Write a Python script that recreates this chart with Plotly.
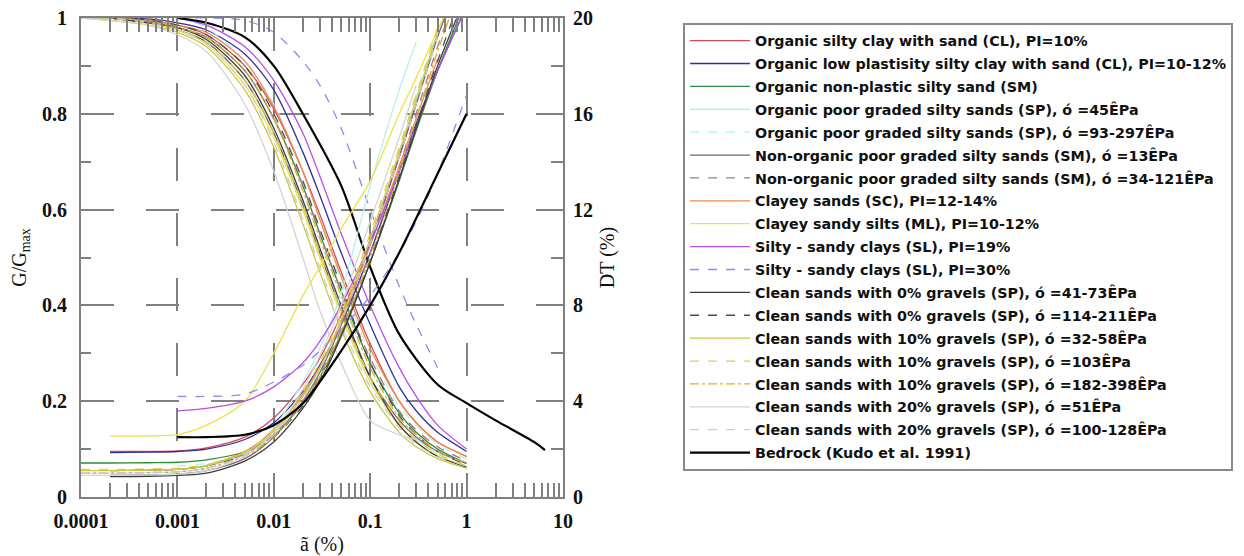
import plotly.graph_objects as go

# shear strain grid (%)
STRAIN = [0.0001, 0.0002, 0.0005, 0.001, 0.002, 0.005, 0.01, 0.02, 0.03, 0.05, 0.1, 0.2, 0.3, 0.5, 1.0]
STRAIN_ROCK = [0.001, 0.002, 0.005, 0.01, 0.02, 0.05, 0.1, 0.2, 0.5, 1.0, 2.0, 5.0, 6.5]

NAMES = [
    "Organic silty clay with sand (CL), PI=10%",
    "Organic low plastisity silty clay with sand (CL), PI=10-12%",
    "Organic non-plastic silty sand (SM)",
    "Organic poor graded silty sands (SP), ó =45ÊPa",
    "Organic poor graded silty sands (SP), ó =93-297ÊPa",
    "Non-organic poor graded silty sands (SM), ó =13ÊPa",
    "Non-organic poor graded silty sands (SM), ó =34-121ÊPa",
    "Clayey sands (SC), PI=12-14%",
    "Clayey sandy silts (ML), PI=10-12%",
    "Silty - sandy clays (SL), PI=19%",
    "Silty - sandy clays (SL), PI=30%",
    "Clean sands with 0% gravels (SP), ó =41-73ÊPa",
    "Clean sands with 0% gravels (SP), ó =114-211ÊPa",
    "Clean sands with 10% gravels (SP), ó =32-58ÊPa",
    "Clean sands with 10% gravels (SP), ó =103ÊPa",
    "Clean sands with 10% gravels (SP), ó =182-398ÊPa",
    "Clean sands with 20% gravels (SP), ó =51ÊPa",
    "Clean sands with 20% gravels (SP), ó =100-128ÊPa",
    "Bedrock (Kudo et al. 1991)",
]

N = None
# G/Gmax curves
G01 = [N, 1.0, 0.995, 0.985, 0.965, 0.90, 0.81, 0.68, 0.59, 0.47, 0.32, 0.20, 0.155, 0.115, 0.085]
G02 = [N, 1.0, 0.998, 0.99, 0.975, 0.925, 0.85, 0.72, 0.63, 0.51, 0.36, 0.23, 0.18, 0.135, 0.095]
G03 = [1.0, 1.0, 0.993, 0.98, 0.96, 0.89, 0.79, 0.65, 0.55, 0.43, 0.28, 0.175, 0.135, 0.10, 0.07]
G04 = [1.0, 1.0, 0.99, 0.975, 0.95, 0.87, 0.76, 0.60, 0.50, 0.38, 0.24, 0.15, 0.12, 0.09, N]
G05 = [N, N, N, 1.0, 0.98, 0.91, 0.82, 0.68, 0.58, 0.45, 0.30, 0.19, 0.15, 0.11, 0.08]
G06 = [N, 1.0, 0.99, 0.975, 0.95, 0.87, 0.76, 0.61, 0.51, 0.39, 0.25, 0.16, 0.125, 0.095, 0.07]
G07 = [N, 1.0, 0.993, 0.98, 0.96, 0.89, 0.79, 0.65, 0.55, 0.43, 0.29, 0.18, 0.14, 0.105, 0.075]
G08 = [N, 1.0, 0.995, 0.985, 0.97, 0.91, 0.815, 0.68, 0.58, 0.46, 0.31, 0.20, 0.155, 0.115, 0.085]
G09 = [N, 1.0, 0.99, 0.975, 0.945, 0.86, 0.75, 0.60, 0.50, 0.38, 0.24, 0.15, 0.115, 0.085, 0.065]
G10 = [N, N, N, 1.0, 0.985, 0.94, 0.87, 0.76, 0.67, 0.55, 0.40, 0.27, 0.21, 0.15, 0.10]
G11 = [N, N, N, 1.0, 1.0, 0.995, 0.97, 0.91, 0.86, 0.77, 0.60, 0.44, 0.36, 0.27, N]
G12 = [N, 1.0, 0.99, 0.98, 0.955, 0.88, 0.77, 0.62, 0.52, 0.40, 0.25, 0.15, 0.115, 0.085, 0.062]
G13 = [1.0, 1.0, 0.995, 0.985, 0.965, 0.90, 0.80, 0.66, 0.56, 0.44, 0.28, 0.17, 0.13, 0.095, 0.068]
G14 = [1.0, 0.995, 0.985, 0.97, 0.94, 0.85, 0.73, 0.57, 0.47, 0.35, 0.22, 0.135, 0.105, 0.08, 0.06]
G15 = [1.0, 1.0, 0.99, 0.975, 0.95, 0.87, 0.76, 0.61, 0.51, 0.39, 0.25, 0.155, 0.12, 0.09, 0.065]
G16 = [1.0, 1.0, 0.993, 0.98, 0.96, 0.89, 0.79, 0.64, 0.54, 0.42, 0.27, 0.165, 0.13, 0.095, 0.07]
G17 = [1.0, 0.995, 0.985, 0.965, 0.93, 0.82, 0.68, 0.50, 0.39, 0.28, 0.16, 0.13, 0.12, N, N]
G18 = [1.0, 1.0, 0.99, 0.975, 0.945, 0.86, 0.74, 0.58, 0.48, 0.36, 0.23, 0.145, 0.11, 0.085, 0.065]
G19 = [1.0, 0.99, 0.96, 0.90, 0.80, 0.65, 0.48, 0.34, 0.235, 0.196, 0.16, 0.115, 0.098]

# damping curves DT (%)
D01 = [N, 1.9, 1.9, 1.92, 2.05, 2.5, 3.3, 4.7, 5.8, 7.6, 10.6, 14.2, 16.4, N, N]
D02 = [N, 1.85, 1.87, 1.9, 2.0, 2.4, 3.1, 4.4, 5.5, 7.2, 10.2, 13.6, 15.6, 17.8, 20.5]
D03 = [1.42, 1.42, 1.43, 1.45, 1.55, 1.9, 2.6, 3.9, 5.0, 6.8, 9.8, 13.2, 15.3, 17.8, 20.8]
D04 = [1.0, 1.0, 1.02, 1.05, 1.2, 1.8, 2.9, 4.8, 6.2, 8.5, 13.0, 17.0, 19.0, N, N]
D05 = [N, N, N, 1.3, 1.4, 1.8, 2.6, 4.0, 5.2, 7.2, 10.6, 14.4, 16.8, 19.5, N]
D06 = [N, 0.9, 0.92, 0.95, 1.1, 1.6, 2.5, 4.0, 5.2, 7.2, 10.6, 14.2, 16.4, 19.2, 22.5]
D07 = [N, 1.1, 1.12, 1.15, 1.3, 1.8, 2.6, 4.0, 5.1, 7.0, 10.2, 13.8, 16.0, 18.8, 22.0]
D08 = [N, 1.1, 1.12, 1.15, 1.3, 1.9, 2.8, 4.3, 5.4, 7.3, 10.5, 13.8, 15.8, 18.3, N]
D09 = [N, 2.55, 2.55, 2.6, 3.0, 4.0, 6.0, 8.4, 9.6, 11.2, 13.2, 16.0, 17.5, 19.5, 22.0]
D10 = [N, N, N, 3.6, 3.7, 4.0, 4.6, 5.6, 6.5, 8.0, 10.6, 13.6, 15.5, 17.8, 20.5]
D11 = [N, N, N, 4.2, 4.2, 4.3, 4.8, 5.5, 6.1, 7.0, 8.4, 10.2, 11.5, 13.5, 16.8]
D12 = [N, 0.85, 0.86, 0.9, 1.0, 1.5, 2.3, 3.7, 4.8, 6.7, 9.8, 13.3, 15.4, 18.0, 21.0]
D13 = [1.13, 1.13, 1.14, 1.17, 1.3, 1.75, 2.5, 3.8, 4.9, 6.8, 9.9, 13.4, 15.5, 18.2, 21.5]
D14 = [1.1, 1.1, 1.12, 1.15, 1.3, 1.85, 2.7, 4.2, 5.4, 7.4, 10.8, 14.4, 16.6, 19.4, N]
D15 = [1.15, 1.15, 1.17, 1.2, 1.35, 1.9, 2.8, 4.4, 5.6, 7.6, 11.0, 14.6, 16.8, 19.6, N]
D16 = [1.0, 1.0, 1.02, 1.05, 1.2, 1.7, 2.5, 3.9, 5.0, 6.9, 10.0, 13.6, 15.8, 18.6, 22.0]
D17 = [0.9, 0.9, 0.92, 0.95, 1.1, 1.7, 2.7, 4.5, 5.9, 8.0, 11.5, 15.0, 17.2, N, N]
D18 = [1.0, 1.0, 1.02, 1.05, 1.2, 1.75, 2.6, 4.1, 5.3, 7.3, 10.6, 14.2, 16.4, 19.2, N]
D19 = [2.5, 2.5, 2.6, 3.0, 3.9, 6.1, 8.0, 10.2, 13.5, 16.0, N, N, N]

G_LIST = [G01, G02, G03, G04, G05, G06, G07, G08, G09, G10, G11, G12, G13, G14, G15, G16, G17, G18, G19]
D_LIST = [D01, D02, D03, D04, D05, D06, D07, D08, D09, D10, D11, D12, D13, D14, D15, D16, D17, D18, D19]

COLORS = ["#d84a55", "#30309a", "#2f8a3a", "#b8eef0", "#b0f4ee", "#7a6474", "#a07890",
          "#f08a48", "#f0e048", "#b84ee8", "#8c8cf0", "#3c3c3c", "#4a4a4a", "#c8c84a",
          "#e8cc3c", "#d8b030", "#d4d4d4", "#cccccc", "#000000"]
DASHES = ["solid", "solid", "solid", "solid", "dash", "solid", "dash", "solid", "solid",
          "solid", "dash", "solid", "dash", "solid", "dash", "dashdot", "solid", "dash", "solid"]
WIDTHS = [1.3] * 18 + [2.2]

fig = go.Figure()
for i, name in enumerate(NAMES):
    xs = STRAIN_ROCK if i == 18 else STRAIN
    line = dict(color=COLORS[i], dash=DASHES[i], width=WIDTHS[i], shape="spline", smoothing=0.8)
    fig.add_trace(go.Scatter(x=xs, y=G_LIST[i], mode="lines", name=name, line=line,
                             legendgroup=f"g{i}", yaxis="y", hoverinfo="skip"))
    fig.add_trace(go.Scatter(x=xs, y=D_LIST[i], mode="lines", name=name, line=line,
                             legendgroup=f"g{i}", showlegend=False, yaxis="y2", hoverinfo="skip"))

AX = "#808080"
tickfont = dict(family="Liberation Serif", size=20, color="#111", weight="bold")
titlefont = dict(family="Liberation Serif", size=20, color="#111")
GRID_DASH = "33px,32px"

fig.update_layout(
    width=1244, height=556, autosize=False,
    margin=dict(l=81, r=681, t=18, b=59, autoexpand=False),
    paper_bgcolor="white", plot_bgcolor="white",
    showlegend=True,
    legend=dict(x=1.249, y=0.99, xanchor="left", yanchor="top",
                bordercolor="#888", borderwidth=2, bgcolor="white",
                font=dict(family="DejaVu Sans", size=14.3, color="#111", weight="bold"),
                tracegroupgap=1.3, itemwidth=60, maxheight=0.98),
    xaxis=dict(type="log", range=[-4, 1],
               tickvals=[0.0001, 0.001, 0.01, 0.1, 1, 10],
               ticktext=["0.0001", "0.001", "0.01", "0.1", "1", "10"],
               tickfont=tickfont, ticks="inside", ticklen=14, tickcolor=AX, tickwidth=2,
               showgrid=True, gridcolor=AX, gridwidth=2, griddash=GRID_DASH,
               minor=dict(dtick="D1", ticks="inside", ticklen=10, tickcolor=AX, tickwidth=2, showgrid=False),
               showline=True, linecolor=AX, linewidth=2, mirror="allticks",
               ticklabelstandoff=5,
               title=dict(text="ã (%)", font=titlefont, standoff=12), zeroline=False),
    yaxis=dict(range=[0, 1], tickvals=[0, 0.2, 0.4, 0.6, 0.8, 1.0],
               ticktext=["0", "0.2", "0.4", "0.6", "0.8", "1"],
               tickfont=tickfont, ticks="inside", ticklen=12, tickcolor=AX, tickwidth=2,
               showgrid=True, gridcolor=AX, gridwidth=2, griddash=GRID_DASH,
               minor=dict(dtick=0.1, ticks="inside", ticklen=10, tickcolor=AX, tickwidth=2, showgrid=False),
               showline=True, linecolor=AX, linewidth=2, zeroline=False,
               ticklabelstandoff=8,
               title=dict(text="G/G<sub>max</sub>", font=titlefont, standoff=10)),
    yaxis2=dict(range=[0, 20], overlaying="y", side="right",
                tickvals=[0, 4, 8, 12, 16, 20], ticktext=["0", "4", "8", "12", "16", "20"],
                tickfont=tickfont, ticks="inside", ticklen=22, tickcolor=AX, tickwidth=2,
                showgrid=False, zeroline=False,
                minor=dict(dtick=2, ticks="inside", ticklen=12, tickcolor=AX, tickwidth=2, showgrid=False),
                showline=True, linecolor=AX, linewidth=2,
                ticklabelstandoff=4,
                title=dict(text="DT (%)", font=titlefont, standoff=8)),
)

fig.write_html("out.html")
